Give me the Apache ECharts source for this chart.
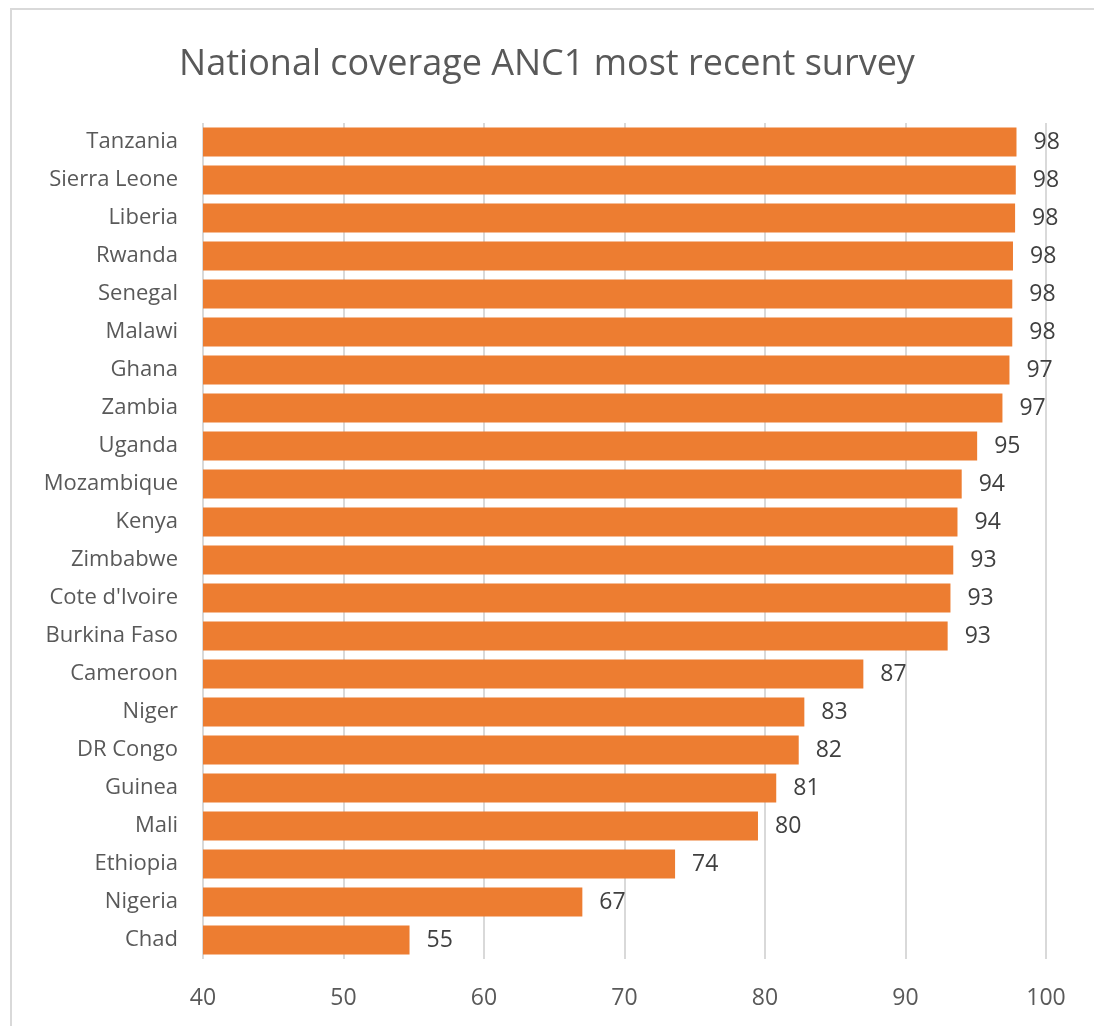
<!DOCTYPE html>
<html>
<head>
<meta charset="utf-8">
<script src="https://cdn.jsdelivr.net/npm/echarts@6/dist/echarts.min.js"></script>
<style>
  html, body { margin: 0; padding: 0; background: #fff; }
  #frame { position: absolute; left: 10px; top: 8px; width: 1100px; height: 1040px; border: 2px solid #d9d9d9; box-sizing: border-box; }
  #chart { position: absolute; left: 0; top: 0; width: 1094px; height: 1026px; }
</style>
</head>
<body>
<div id="frame"></div>
<div id="chart"></div>
<script>
const countries = ["Tanzania", "Sierra Leone", "Liberia", "Rwanda", "Senegal", "Malawi", "Ghana", "Zambia", "Uganda", "Mozambique", "Kenya", "Zimbabwe", "Cote d'Ivoire", "Burkina Faso", "Cameroon", "Niger", "DR Congo", "Guinea", "Mali", "Ethiopia", "Nigeria", "Chad"];
const coverage = [97.9, 97.85, 97.8, 97.65, 97.6, 97.6, 97.4, 96.9, 95.1, 94.0, 93.7, 93.4, 93.2, 93.0, 87.0, 82.8, 82.4, 80.8, 79.5, 73.6, 67.0, 54.7];
const xTicks = { min: 40, max: 100, interval: 10 };
const titleText = "National coverage ANC1 most recent survey";

const font = "'Open Sans', 'Noto Sans', sans-serif";
const chart = echarts.init(document.getElementById('chart'), null, { renderer: 'canvas' });
chart.setOption({
  animation: false,
  backgroundColor: 'transparent',
  title: {
    text: titleText,
    left: 'center',
    top: 42,
    textStyle: { fontFamily: font, fontSize: 36, fontWeight: 'normal', color: '#595959' }
  },
  grid: { left: 203, right: 48, top: 123, bottom: 67, containLabel: false },
  xAxis: {
    type: 'value',
    min: xTicks.min, max: xTicks.max, interval: xTicks.interval,
    axisLine: { show: false },
    axisTick: { show: false },
    splitLine: { show: true, lineStyle: { color: '#d9d9d9', width: 2 } },
    axisLabel: { margin: 28, fontFamily: font, fontSize: 23, color: '#595959' }
  },
  yAxis: {
    type: 'category',
    data: countries,
    inverse: true,
    axisLine: { show: false },
    axisTick: { show: false },
    axisLabel: { margin: 25, fontFamily: font, fontSize: 22, color: '#595959', padding: [4, 0, 0, 0] }
  },
  series: [{
    type: 'bar',
    data: coverage,
    barCategoryGap: '24%',
    itemStyle: { color: '#ED7D31' },
    label: {
      show: true,
      position: 'right',
      distance: 17,
      fontFamily: font,
      fontSize: 23,
      color: '#404040',
      padding: [5, 0, 0, 0],
      formatter: p => Math.round(p.value)
    }
  }]
});
</script>
</body>
</html>
